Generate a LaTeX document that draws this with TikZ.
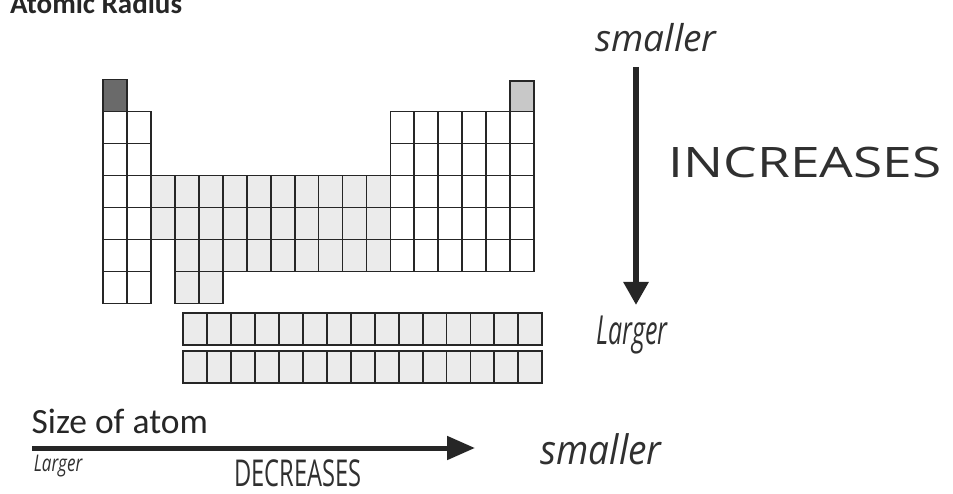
\documentclass[tikz,border=0pt]{standalone}
\usepackage{fontspec}
\usepackage{graphicx}
\setmainfont{Carlito}
\newfontfamily\hand{Open Sans}
\usetikzlibrary{arrows.meta}
\definecolor{ink}{HTML}{262626}
\definecolor{pen}{HTML}{303030}
\definecolor{hcell}{HTML}{6A6A6A}
\definecolor{hecell}{HTML}{C8C8C8}
\definecolor{dcell}{HTML}{EBEBEB}
\begin{document}
\begin{tikzpicture}[x=1pt,y=-1pt,
  cell/.style={draw=ink, line width=1.8pt, minimum width=23.95pt, minimum height=32pt, inner sep=0pt, outer sep=0pt, anchor=north west},
  wcell/.style={cell, fill=white},
  gcell/.style={cell, fill=dcell},
  fcell/.style={cell, fill=dcell, minimum width=23.93pt},
  handtext/.style={inner sep=0pt, text=pen},
  print/.style={inner sep=0pt, text=ink}
]
\useasboundingbox (0,0) rectangle (953,494);
\clip (0,0) rectangle (953,494);
% title
\node[print, anchor=base west, font=\bfseries\fontsize{29}{29}\selectfont] (title) at (10,13.5) {Atomic Radius};
% period 1
\node[cell, fill=hcell] (h) at (103,79.5) {};
\node[cell, fill=hecell] (he) at ({103+23.95*17},81) {};
% s-block
\foreach \j in {2,...,7} \foreach \i in {1,2} {
  \node[wcell] (s-\j-\i) at ({103+23.95*(\i-1)},{79.5+32*(\j-1)}) {};
}
% p-block
\foreach \j in {2,...,6} \foreach \i in {13,...,18} {
  \node[wcell] (p-\j-\i) at ({103+23.95*(\i-1)},{79.5+32*(\j-1)}) {};
}
% d-block
\foreach \j in {4,5} \foreach \i in {3,...,12} {
  \node[gcell] (d-\j-\i) at ({103+23.95*(\i-1)},{79.5+32*(\j-1)}) {};
}
\foreach \i in {4,...,12} {
  \node[gcell] (d-6-\i) at ({103+23.95*(\i-1)},{79.5+32*5}) {};
}
\foreach \i in {4,5} {
  \node[gcell] (d-7-\i) at ({103+23.95*(\i-1)},{79.5+32*6}) {};
}
% f-block rows
\foreach \i in {1,...,15} {
  \node[fcell] (fa-\i) at ({183.3+23.93*(\i-1)},313.3) {};
  \node[fcell] (fb-\i) at ({183.3+23.93*(\i-1)},351) {};
}
% vertical arrow
\node[handtext, font=\hand\itshape\fontsize{37}{37}\selectfont] (smtop) at (656,38) {smaller};
\node[handtext, font=\hand\itshape\fontsize{25}{25}\selectfont] (lgright) at (632,335) {\scalebox{1}[1.6]{Larger}};
\node[handtext, font=\hand\fontsize{40}{40}\selectfont] (inc) at (805,162) {\scalebox{1.33}[1.05]{INCREASES}};
\coordinate (vtop) at (636,67);
\coordinate (vbot) at (636,305);
\draw[ink, line width=6pt, -{Triangle[length=23pt,width=24pt]}] (vtop) -- (vbot);
% horizontal arrow
\node[print, anchor=base west, font=\fontsize{35.5}{35.5}\selectfont] (size) at (31.5,433.3) {Size of atom};
\coordinate (hl) at (32,448);
\coordinate (hr) at (475,448);
\draw[ink, line width=5pt, -{Triangle[length=28pt,width=23pt]}] (hl) -- (hr);
\node[handtext, font=\hand\itshape\fontsize{17}{17}\selectfont] (lgleft) at (58,466) {\scalebox{1}[1.35]{Larger}};
\node[handtext, font=\hand\fontsize{37}{37}\selectfont] (dec) at (298,473) {\scalebox{0.64}[1]{DECREASES}};
\node[handtext, font=\hand\itshape\fontsize{37}{37}\selectfont] (smbot) at (601,449) {\scalebox{1}[1.1]{smaller}};
\end{tikzpicture}
\end{document}
